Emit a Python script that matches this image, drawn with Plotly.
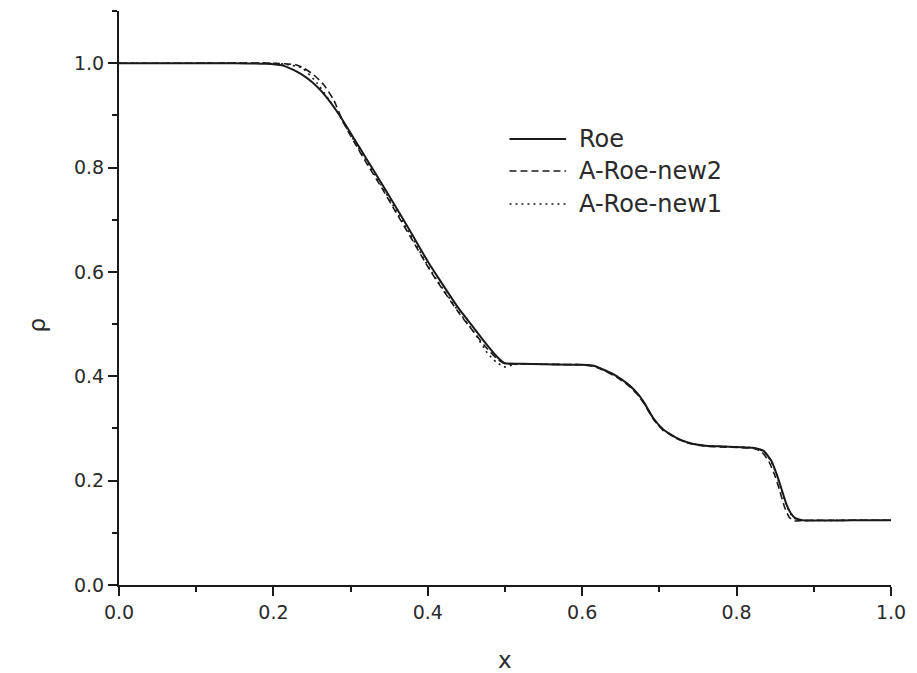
import plotly.graph_objects as go

# Density profiles along the tube for three flux schemes
x_roe = [0.0, 0.10, 0.15, 0.19, 0.211, 0.22, 0.235, 0.25, 0.263, 0.284, 0.31, 0.32,
         0.34, 0.358, 0.378, 0.40, 0.413, 0.44, 0.46, 0.474, 0.49, 0.50, 0.52, 0.55,
         0.60, 0.615, 0.63, 0.645, 0.66, 0.671, 0.68, 0.692, 0.705, 0.713, 0.722,
         0.739, 0.76, 0.79, 0.821, 0.835, 0.845, 0.852, 0.858, 0.864, 0.87, 0.876,
         0.885, 0.95, 1.0]
rho_roe = [1.0, 1.0, 1.0, 0.999, 0.996, 0.991, 0.980, 0.964, 0.945, 0.904, 0.842, 0.818,
           0.770, 0.726, 0.676, 0.620, 0.590, 0.530, 0.492, 0.465, 0.437, 0.425, 0.424, 0.423,
           0.422, 0.420, 0.411, 0.400, 0.384, 0.368, 0.350, 0.320, 0.298, 0.290, 0.282,
           0.272, 0.267, 0.265, 0.263, 0.257, 0.238, 0.212, 0.185, 0.157, 0.138, 0.128,
           0.124, 0.124, 0.124]

x_new2 = [0.0, 0.10, 0.20, 0.229, 0.24, 0.252, 0.265, 0.278, 0.29, 0.31, 0.32, 0.34,
          0.358, 0.378, 0.40, 0.413, 0.44, 0.46, 0.474, 0.49, 0.50, 0.52, 0.55, 0.60,
          0.615, 0.63, 0.645, 0.66, 0.671, 0.68, 0.692, 0.705, 0.713, 0.722, 0.739,
          0.76, 0.79, 0.821, 0.832, 0.842, 0.85, 0.856, 0.862, 0.868, 0.874, 0.882,
          0.90, 0.95, 1.0]
rho_new2 = [1.0, 1.0, 1.0, 0.997, 0.990, 0.978, 0.959, 0.930, 0.888, 0.835, 0.810, 0.762,
            0.716, 0.666, 0.610, 0.580, 0.522, 0.484, 0.458, 0.433, 0.424, 0.424, 0.423, 0.422,
            0.419, 0.410, 0.398, 0.382, 0.366, 0.348, 0.318, 0.296, 0.289, 0.281, 0.271,
            0.266, 0.264, 0.262, 0.256, 0.236, 0.208, 0.180, 0.150, 0.130, 0.123, 0.123,
            0.124, 0.124, 0.124]

x_new1 = [0.0, 0.10, 0.19, 0.215, 0.237, 0.256, 0.272, 0.284, 0.31, 0.32, 0.34, 0.358,
          0.378, 0.40, 0.413, 0.44, 0.46, 0.477, 0.488, 0.499, 0.51, 0.52, 0.55, 0.60,
          0.615, 0.63, 0.645, 0.66, 0.671, 0.68, 0.692, 0.705, 0.713, 0.722, 0.739,
          0.76, 0.79, 0.821, 0.835, 0.845, 0.852, 0.858, 0.864, 0.87, 0.876, 0.885,
          0.95, 1.0]
rho_new1 = [1.0, 1.0, 1.0, 0.998, 0.991, 0.963, 0.930, 0.903, 0.838, 0.814, 0.766, 0.720,
            0.670, 0.612, 0.582, 0.524, 0.484, 0.445, 0.428, 0.418, 0.422, 0.424, 0.423, 0.422,
            0.420, 0.411, 0.400, 0.384, 0.368, 0.350, 0.319, 0.297, 0.290, 0.282, 0.272,
            0.267, 0.265, 0.263, 0.256, 0.236, 0.210, 0.183, 0.155, 0.136, 0.127, 0.124,
            0.124, 0.124]

series_names = ["Roe", "A-Roe-new2", "A-Roe-new1"]

INK = "#1a1a1a"
TXT = "#2a2a2a"
FONT = "DejaVu Sans, Verdana, sans-serif"
styles = [
    dict(color=INK, width=2.0, dash="solid"),
    dict(color=INK, width=1.6, dash="7px,4px"),
    dict(color=INK, width=1.6, dash="2px,4px"),
]

fig = go.Figure()
for xs, ys, name, st in zip([x_roe, x_new2, x_new1],
                            [rho_roe, rho_new2, rho_new1],
                            series_names, styles):
    fig.add_trace(go.Scatter(
        x=xs, y=ys, mode="lines", name=name, showlegend=False,
        line=dict(shape="spline", smoothing=0.5, **st),
    ))

# Plot-area edges in pixels, used to place the key and titles in paper units
L, R, T, B = 119, 896, 11, 585
def px(xp):
    return (xp - L) / (R - L)
def py(yp):
    return (B - yp) / (B - T)

# Key: short line samples with labels to their right
key_rows = [139, 171, 204]
for name, st, row in zip(series_names, styles, key_rows):
    fig.add_shape(type="line", xref="paper", yref="paper",
                  x0=px(512), x1=px(569), y0=py(row), y1=py(row),
                  line=st)
    fig.add_annotation(xref="paper", yref="paper", x=px(580), y=py(row),
                       text=name, showarrow=False, xanchor="left", yanchor="middle",
                       font=dict(family=FONT, size=24, color=TXT))

# Axis titles
fig.add_annotation(xref="paper", yref="paper", x=px(507.5), y=py(660),
                   text="x", showarrow=False, xanchor="center", yanchor="middle",
                   font=dict(family=FONT, size=23, color=TXT))
fig.add_annotation(xref="paper", yref="paper", x=px(36), y=py(325),
                   text="ρ", showarrow=False, textangle=-90,
                   xanchor="center", yanchor="middle",
                   font=dict(family=FONT, size=23, color=TXT))

axis_common = dict(
    showline=True, linecolor=INK, linewidth=2,
    ticks="outside", ticklen=9, tickwidth=1.5, tickcolor=INK,
    showgrid=False, zeroline=False, mirror=False,
    tickfont=dict(family=FONT, size=19, color=TXT),
    tickformat=".1f",
    minor=dict(ticks="outside", ticklen=5, tickwidth=1.5, tickcolor=INK, dtick=0.1, showgrid=False),
)

fig.update_layout(
    width=917, height=673,
    margin=dict(l=L, r=917 - R, t=T, b=673 - B),
    paper_bgcolor="white", plot_bgcolor="white",
    xaxis=dict(range=[0, 1.0], dtick=0.2, tick0=0, **axis_common),
    yaxis=dict(range=[0, 1.1], dtick=0.2, tick0=0, **axis_common),
)

fig.write_html("out.html")
